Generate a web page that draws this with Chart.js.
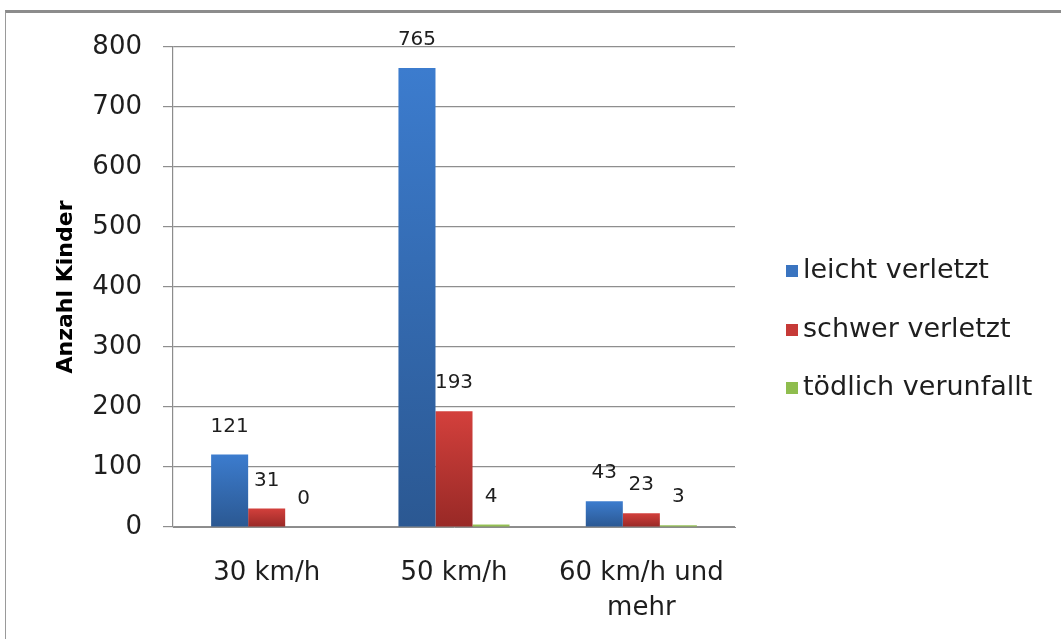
<!DOCTYPE html>
<html lang="de">
<head>
<meta charset="utf-8">
<title>Verunfallte Kinder nach Tempolimit</title>
<script src="https://cdn.jsdelivr.net/npm/chart.js@4.4.1/dist/chart.umd.min.js"></script>
<style>
  html, body { margin: 0; padding: 0; background: #fff; }
  #wrap { position: relative; width: 1061px; height: 639px; overflow: hidden; }
  #frame {
    position: absolute; left: 5px; top: 10px; width: 1100px; height: 700px;
    border-top: 3px solid #8c8c8c; border-left: 1px solid #9a9a9a;
    box-sizing: border-box; pointer-events: none;
  }
  canvas { position: absolute; left: 0; top: 0; }
</style>
</head>
<body>
<div id="wrap">
  <div id="frame"></div>
  <canvas id="chart" width="1061" height="639"></canvas>
</div>
<script>
// Kategorien (Tempolimit) und Anzahl verunfallter Kinder
const categories = ['30 km/h', '50 km/h', ['60 km/h und', 'mehr']];
const seriesNames = ['leicht verletzt', 'schwer verletzt', 'tödlich verunfallt'];
const leichtVerletzt = [121, 765, 43];
const schwerVerletzt = [31, 193, 23];
const toedlich = [0, 4, 3];
const yTicks = [0, 100, 200, 300, 400, 500, 600, 700, 800];

const FONT = "'DejaVu Sans', sans-serif";

// colour pairs: top of bar -> base of bar
const palette = [
  { top: '#3c7cce', bottom: '#2b5892', legend: '#3a74c0' },
  { top: '#d3403c', bottom: '#982926', legend: '#c63a37' },
  { top: '#9cc75c', bottom: '#86b244', legend: '#8fbd4e' }
];

function barFill(idx) {
  return function (ctx) {
    const chart = ctx.chart;
    const c = palette[idx];
    if (!chart.chartArea || ctx.type !== 'data') return c.top;
    const y = chart.scales.y;
    const top = y.getPixelForValue(ctx.raw);
    const base = y.getPixelForValue(0);
    if (!(base - top > 0.5)) return c.top;
    const g = chart.ctx.createLinearGradient(0, top, 0, base);
    g.addColorStop(0, c.top);
    g.addColorStop(1, c.bottom);
    return g;
  };
}

// value labels above each bar
const valueLabels = {
  id: 'valueLabels',
  afterDatasetsDraw(chart) {
    const ctx = chart.ctx;
    ctx.save();
    ctx.font = '20px ' + FONT;
    ctx.fillStyle = '#1e1e1e';
    ctx.textAlign = 'center';
    ctx.textBaseline = 'middle';
    chart.data.datasets.forEach((ds, i) => {
      chart.getDatasetMeta(i).data.forEach((bar, j) => {
        ctx.fillText(String(ds.data[j]), bar.x, bar.y - 28);
      });
    });
    ctx.restore();
  }
};

// legend column at the right of the plot
const sideLegend = {
  id: 'sideLegend',
  afterDraw(chart) {
    const ctx = chart.ctx;
    const x0 = chart.chartArea.right + 51;
    const rows = [271, 330, 388];
    ctx.save();
    ctx.font = '27px ' + FONT;
    ctx.textAlign = 'left';
    ctx.textBaseline = 'middle';
    chart.data.datasets.forEach((ds, i) => {
      const cy = rows[i];
      ctx.fillStyle = palette[i].legend;
      ctx.fillRect(x0, cy - 6, 12, 12);
      ctx.fillStyle = '#1e1e1e';
      ctx.fillText(ds.label, x0 + 17, cy);
    });
    ctx.restore();
  }
};

new Chart(document.getElementById('chart'), {
  type: 'bar',
  data: {
    labels: categories,
    datasets: [
      { label: seriesNames[0], data: leichtVerletzt, backgroundColor: barFill(0) },
      { label: seriesNames[1], data: schwerVerletzt, backgroundColor: barFill(1) },
      { label: seriesNames[2], data: toedlich, backgroundColor: barFill(2) }
    ]
  },
  options: {
    responsive: false,
    animation: false,
    devicePixelRatio: 1,
    layout: { padding: { left: 50, top: 47, right: 326, bottom: 0 } },
    datasets: {
      bar: { categoryPercentage: 0.593, barPercentage: 1.0, borderWidth: 0 }
    },
    plugins: {
      legend: { display: false },
      tooltip: { enabled: false }
    },
    scales: {
      x: {
        grid: { display: false, drawTicks: false },
        border: { display: true, color: '#8c8c8c', width: 1 },
        ticks: {
          color: '#1e1e1e',
          padding: 29,
          maxRotation: 0,
          autoSkip: false,
          font: { family: FONT, size: 26, lineHeight: 1.35 }
        },
        afterFit(scale) { scale.height = 112; }
      },
      y: {
        min: 0,
        max: 800,
        afterBuildTicks(scale) { scale.ticks = yTicks.map(v => ({ value: v })); },
        grid: { color: '#8e8e8e', lineWidth: 1.2, tickLength: 10, drawTicks: true },
        border: { display: true, color: '#8c8c8c', width: 1.2 },
        ticks: {
          color: '#1e1e1e',
          padding: 21,
          font: { family: FONT, size: 26 }
        },
        title: {
          display: true,
          text: 'Anzahl Kinder',
          color: '#000',
          padding: { top: 3, bottom: 0 },
          font: { family: FONT, size: 22, weight: 'bold', lineHeight: 1.2 }
        },
        afterFit(scale) { scale.width = 123; }
      }
    }
  },
  plugins: [valueLabels, sideLegend]
});
</script>
</body>
</html>
